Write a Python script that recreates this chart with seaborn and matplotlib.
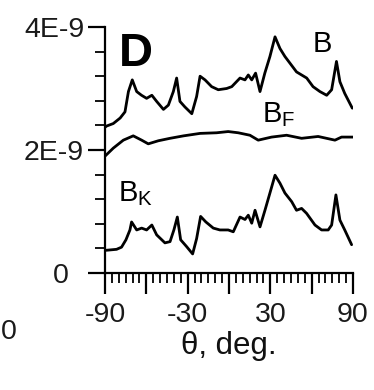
import matplotlib
matplotlib.use("Agg")
import matplotlib.pyplot as plt
import seaborn as sns
import numpy as np
import pandas as pd
from matplotlib.ticker import MultipleLocator, FixedLocator

# ---- data ----
theta_B = [-90, -88.8, -84, -79, -75.5, -73, -70.2, -67, -63.5, -59.8, -56, -52.5, -47.6, -44,
           -40.4, -38, -35.6, -32, -27, -23.5, -21, -17.4, -12.6, -7.8, -1.7, 2, 8, 11.6, 14,
           16.5, 19.3, 22.5, 26, 29.7, 33.4, 37, 40.6, 44.3, 49, 52.7, 56.4, 61, 66, 70.9,
           74.5, 78, 80.5, 84, 89.5]
B_vals = [2.37, 2.39, 2.43, 2.52, 2.62, 2.95, 3.14, 2.95, 2.89, 2.84, 2.89, 2.79, 2.66, 2.73,
          2.95, 3.17, 2.79, 2.70, 2.59, 2.87, 3.20, 3.14, 3.03, 2.98, 3.00, 3.03, 3.17, 3.14, 3.22,
          3.14, 3.25, 2.95, 3.25, 3.52, 3.84, 3.65, 3.52, 3.41, 3.27, 3.22, 3.17, 3.03, 2.95, 2.89,
          2.98, 3.44, 3.11, 2.92, 2.68]

theta_BF = [-90, -84, -76.7, -69.5, -63.4, -58.6, -51.3, -42.8, -33, -21, -9, -0.6, 6.7, 15.2,
            21.2, 30.9, 41.8, 52.7, 64.7, 76.9, 81.7, 90]
BF_vals = [1.90, 2.03, 2.16, 2.23, 2.16, 2.10, 2.15, 2.19, 2.23, 2.27, 2.28, 2.30, 2.28, 2.24,
           2.16, 2.21, 2.24, 2.19, 2.22, 2.16, 2.21, 2.21]

theta_BK = [-90, -88.8, -81.6, -78, -74.8, -71.9, -70.7, -67, -63.4, -59.8, -56, -52.5, -46.5,
            -42.8, -40, -37.5, -35.1, -30.8, -26.4, -23.5, -20.6, -16.8, -11.4, -6.6, -0.6, 3.1,
            8, 11.6, 14, 16.5, 18.9, 22.5, 26.1, 29.7, 33.4, 37, 40.6, 45.5, 49, 52.7, 56.3,
            62.4, 67.2, 72, 74.5, 77.6, 80.5, 84, 89]
BK_vals = [0.37, 0.37, 0.385, 0.42, 0.54, 0.70, 0.83, 0.70, 0.73, 0.70, 0.78, 0.62, 0.49, 0.51,
           0.70, 0.91, 0.54, 0.43, 0.31, 0.56, 0.92, 0.83, 0.73, 0.70, 0.70, 0.67, 0.91, 0.87,
           0.94, 0.81, 1.02, 0.75, 1.02, 1.30, 1.59, 1.46, 1.30, 1.16, 1.02, 1.05, 0.97, 0.78,
           0.70, 0.70, 0.78, 1.27, 0.86, 0.70, 0.46]

y_ticks = [0, 2e-9, 4e-9]
y_ticklabels = ["0  ", "2E-9", "4E-9"]
x_ticks = [-90, -60, -30, 0, 30, 60, 90]
x_ticklabels = ["-90", "", "-30", "", "30", "", "90"]

sns.set_theme(style="white")
plt.rcParams['font.family'] = ['Liberation Sans', 'DejaVu Sans']
plt.rcParams['mathtext.fontset'] = 'custom'
plt.rcParams['mathtext.rm'] = 'Liberation Sans'

fig = plt.figure(figsize=(3.74, 3.90), dpi=100)
ax = fig.add_axes([105/374, 1-273/390, 248/374, 246/390])

for th, v in [(theta_B, B_vals), (theta_BF, BF_vals), (theta_BK, BK_vals)]:
    df = pd.DataFrame({"theta": th, "val": np.array(v) * 1e-9})
    sns.lineplot(data=df, x="theta", y="val", ax=ax, color="black", lw=2.0,
                 estimator=None, sort=False)

ax.set_xlim(-90, 90)
ax.set_ylim(0, 4e-9)
sns.despine(ax=ax)
for s in ["left", "bottom"]:
    ax.spines[s].set_linewidth(1.6)
    ax.spines[s].set_color("black")

ax.xaxis.set_major_locator(FixedLocator(x_ticks))
ax.set_xticklabels(x_ticklabels)
ax.xaxis.set_minor_locator(MultipleLocator(5))
ax.yaxis.set_major_locator(FixedLocator(y_ticks))
ax.set_yticklabels(y_ticklabels)
ax.yaxis.set_minor_locator(MultipleLocator(0.4e-9))

ax.tick_params(axis="both", which="both", direction="out", color="black",
               bottom=True, left=True, labelsize=20.5, labelcolor="#1a1a1a")
ax.tick_params(axis="x", which="major", length=15, width=1.6, pad=6)
ax.tick_params(axis="x", which="minor", length=7, width=1.3)
ax.tick_params(axis="y", which="major", length=12, width=1.6, pad=3)
ax.tick_params(axis="y", which="minor", length=7, width=1.3)

ax.set_xlabel("θ, deg.", fontsize=22.5, color="#111111", labelpad=2)
ax.set_ylabel("")

ax.text(119/374, 1-66/390, "D", transform=fig.transFigure, fontsize=34,
        fontweight="bold", ha="left", va="baseline", color="black")
ax.text(313/374, 1-52/390, "B", transform=fig.transFigure, fontsize=21,
        ha="left", va="baseline", color="black")
ax.text(262/374, 1-122/390, r"$\mathregular{B_F}$", transform=fig.transFigure,
        fontsize=21, ha="left", va="baseline", color="black")
ax.text(118/374, 1-201/390, r"$\mathregular{B_K}$", transform=fig.transFigure,
        fontsize=21, ha="left", va="baseline", color="black")
fig.text(1/374, 1-332/390, "0", fontsize=20.5, color="#1a1a1a", ha="left", va="center")

fig.savefig("out.png", dpi=100, facecolor="white")
